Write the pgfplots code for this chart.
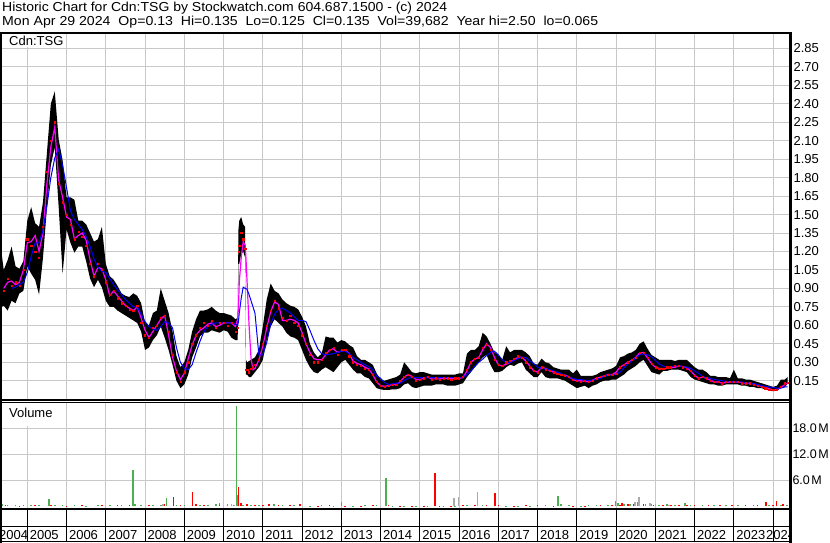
\documentclass[border=0pt]{standalone}
\usepackage{fontspec}
\setmainfont{Liberation Sans}
\usepackage{graphicx}
\usepackage{pgfplots}
\pgfplotsset{compat=1.18}
\usepackage{pgfplotstable}
\definecolor{gridc}{RGB}{200,200,200}
\definecolor{volgreen}{RGB}{76,175,80}
\definecolor{volgray}{RGB}{170,170,170}
\definecolor{mag}{RGB}{255,0,255}
\newcommand{\fnt}{\fontsize{13}{15}\selectfont}

\pgfplotstableread{
t ma bl lo hi cl
2004.30 nan nan 0.74 1.30 0.90
2004.40 0.90 nan 0.76 1.05 0.88
2004.50 0.95 nan 0.72 1.13 0.98
2004.60 0.96 0.90 0.80 1.24 0.92
2004.70 0.93 0.91 0.78 1.08 0.95
2004.80 0.95 0.93 0.86 1.06 0.92
2004.90 1.05 0.95 0.88 1.12 1.05
2005.00 1.27 1.03 1.08 1.45 1.30
2005.10 1.28 1.16 1.02 1.56 1.25
2005.20 1.33 1.27 0.97 1.43 1.20
2005.30 1.20 1.27 0.85 1.40 1.15
2005.40 1.35 1.37 1.15 1.60 1.40
2005.50 1.75 1.57 1.55 2.00 1.85
2005.60 2.05 1.80 1.90 2.40 2.10
2005.70 2.21 1.96 2.05 2.50 2.25
2005.80 1.78 2.03 1.56 2.11 1.75
2005.90 1.64 1.90 1.02 1.94 1.60
2006.00 1.48 1.72 1.38 1.64 1.50
2006.10 1.46 1.53 1.27 1.64 1.42
2006.20 1.30 1.46 1.19 1.62 1.30
2006.30 1.33 1.42 1.24 1.45 1.36
2006.40 1.35 1.38 1.24 1.45 1.32
2006.50 1.29 1.32 1.12 1.42 1.25
2006.60 1.13 1.24 0.98 1.35 1.10
2006.70 1.00 1.14 0.91 1.28 1.00
2006.80 1.07 1.07 0.97 1.30 1.10
2006.90 1.06 1.04 0.91 1.40 1.05
2007.00 0.97 1.03 0.80 1.10 0.95
2007.10 0.84 0.98 0.75 1.00 0.85
2007.20 0.88 0.93 0.75 0.97 0.88
2007.30 0.84 0.89 0.72 0.92 0.82
2007.40 0.80 0.85 0.70 0.86 0.78
2007.50 0.76 0.81 0.68 0.84 0.76
2007.60 0.74 0.78 0.66 0.83 0.73
2007.70 0.72 0.75 0.64 0.86 0.72
2007.80 0.75 0.75 0.62 0.84 0.76
2007.90 0.66 0.69 0.55 0.78 0.62
2008.00 0.56 0.63 0.40 0.62 0.52
2008.10 0.50 0.59 0.42 0.60 0.50
2008.20 0.55 0.57 0.48 0.70 0.58
2008.30 0.60 0.56 0.52 0.72 0.60
2008.40 0.65 0.59 0.59 0.90 0.66
2008.50 0.68 0.63 0.50 0.80 0.68
2008.60 0.52 0.62 0.40 0.70 0.55
2008.70 0.34 0.58 0.28 0.55 0.36
2008.80 0.23 0.42 0.15 0.35 0.22
2008.90 0.16 0.30 0.09 0.26 0.14
2009.00 0.21 0.25 0.12 0.30 0.22
2009.10 0.33 0.24 0.20 0.40 0.30
2009.20 0.44 0.28 0.34 0.55 0.45
2009.30 0.52 0.38 0.42 0.65 0.52
2009.40 0.56 0.47 0.51 0.72 0.58
2009.50 0.58 0.55 0.54 0.72 0.62
2009.60 0.61 0.59 0.54 0.73 0.60
2009.70 0.62 0.61 0.56 0.75 0.64
2009.80 0.59 0.62 0.55 0.72 0.58
2009.90 0.60 0.62 0.54 0.70 0.62
2010.00 0.62 0.62 0.56 0.70 0.62
2010.10 0.62 0.62 0.55 0.69 0.60
2010.20 0.62 0.62 0.50 0.68 0.62
2010.30 0.59 0.61 0.48 0.65 0.55
2010.36 0.65 0.60 0.48 0.66 0.58
2010.38 0.75 0.63 1.10 1.38 1.20
2010.40 0.95 0.70 1.10 1.45 1.25
2010.45 1.15 0.82 1.18 1.48 1.35
2010.50 1.28 0.91 1.20 1.42 1.30
2010.55 1.25 0.90 1.15 1.40 1.22
2010.57 1.15 0.90 0.20 0.32 0.24
2010.60 0.95 0.89 0.20 0.30 0.24
2010.65 0.60 0.85 0.18 0.31 0.22
2010.70 0.33 0.80 0.18 0.32 0.25
2010.75 0.24 0.75 0.20 0.33 0.26
2010.80 0.25 0.70 0.22 0.34 0.28
2010.90 0.32 0.36 0.26 0.40 0.32
2011.00 0.43 0.36 0.32 0.59 0.45
2011.10 0.58 0.46 0.48 0.81 0.60
2011.20 0.71 0.61 0.59 0.94 0.72
2011.30 0.79 0.69 0.65 0.88 0.80
2011.40 0.77 0.73 0.62 0.86 0.74
2011.50 0.64 0.74 0.59 0.81 0.66
2011.60 0.64 0.72 0.54 0.78 0.64
2011.70 0.65 0.70 0.51 0.76 0.68
2011.80 0.64 0.67 0.50 0.75 0.62
2011.90 0.62 0.64 0.48 0.73 0.60
2012.00 0.54 0.64 0.40 0.67 0.52
2012.10 0.45 0.63 0.32 0.59 0.45
2012.20 0.38 0.56 0.26 0.45 0.36
2012.30 0.33 0.48 0.22 0.38 0.30
2012.40 0.32 0.41 0.21 0.34 0.30
2012.50 0.32 0.37 0.24 0.37 0.32
2012.60 0.36 0.36 0.26 0.51 0.38
2012.70 0.40 0.365 0.24 0.50 0.40
2012.80 0.41 0.37 0.22 0.50 0.42
2012.90 0.38 0.38 0.26 0.46 0.36
2013.00 0.39 0.39 0.30 0.48 0.40
2013.10 0.40 0.39 0.32 0.47 0.40
2013.20 0.37 0.37 0.28 0.44 0.35
2013.30 0.31 0.34 0.24 0.42 0.30
2013.40 0.29 0.32 0.21 0.35 0.28
2013.50 0.28 0.30 0.21 0.32 0.27
2013.60 0.26 0.28 0.18 0.32 0.25
2013.70 0.245 0.265 0.17 0.30 0.24
2013.80 0.20 0.24 0.13 0.28 0.20
2013.90 0.14 0.19 0.09 0.21 0.14
2014.00 0.11 0.17 0.08 0.16 0.11
2014.10 0.105 0.135 0.075 0.15 0.10
2014.20 0.11 0.12 0.075 0.16 0.11
2014.30 0.12 0.125 0.08 0.17 0.12
2014.40 0.12 0.13 0.08 0.18 0.12
2014.50 0.14 0.13 0.09 0.20 0.15
2014.60 0.18 0.15 0.12 0.30 0.18
2014.70 0.20 0.17 0.13 0.26 0.20
2014.80 0.185 0.175 0.10 0.22 0.18
2014.90 0.16 0.175 0.09 0.21 0.15
2015.00 0.16 0.175 0.10 0.22 0.16
2015.10 0.17 0.175 0.11 0.22 0.17
2015.20 0.18 0.175 0.11 0.21 0.18
2015.30 0.165 0.175 0.11 0.20 0.16
2015.40 0.165 0.175 0.12 0.20 0.17
2015.50 0.165 0.175 0.12 0.20 0.16
2015.60 0.17 0.175 0.12 0.20 0.17
2015.70 0.17 0.175 0.11 0.20 0.17
2015.80 0.17 0.175 0.11 0.20 0.16
2015.90 0.17 0.175 0.11 0.20 0.17
2016.00 0.17 0.175 0.12 0.21 0.17
2016.10 0.175 0.18 0.13 0.21 0.18
2016.20 0.23 0.20 0.18 0.37 0.24
2016.30 0.30 0.23 0.22 0.40 0.30
2016.40 0.325 0.265 0.26 0.40 0.33
2016.50 0.34 0.30 0.30 0.43 0.34
2016.60 0.40 0.325 0.34 0.54 0.42
2016.70 0.45 0.355 0.36 0.51 0.44
2016.80 0.42 0.38 0.28 0.45 0.40
2016.90 0.34 0.39 0.22 0.38 0.32
2017.00 0.28 0.36 0.22 0.36 0.28
2017.10 0.27 0.32 0.23 0.32 0.27
2017.20 0.285 0.30 0.26 0.43 0.30
2017.30 0.30 0.30 0.28 0.38 0.31
2017.40 0.32 0.315 0.27 0.40 0.33
2017.50 0.34 0.33 0.29 0.40 0.35
2017.60 0.34 0.34 0.30 0.40 0.34
2017.70 0.31 0.34 0.24 0.38 0.30
2017.80 0.27 0.31 0.21 0.35 0.26
2017.90 0.23 0.29 0.18 0.29 0.23
2018.00 0.22 0.26 0.18 0.28 0.22
2018.10 0.26 0.25 0.22 0.33 0.26
2018.20 0.25 0.245 0.18 0.30 0.24
2018.30 0.235 0.24 0.17 0.29 0.23
2018.40 0.22 0.23 0.17 0.26 0.22
2018.50 0.21 0.22 0.17 0.25 0.21
2018.60 0.20 0.21 0.16 0.24 0.20
2018.70 0.195 0.19 0.15 0.24 0.19
2018.80 0.18 0.175 0.13 0.24 0.18
2018.90 0.16 0.17 0.11 0.21 0.16
2019.00 0.15 0.16 0.09 0.24 0.15
2019.10 0.15 0.16 0.10 0.19 0.14
2019.20 0.145 0.155 0.11 0.19 0.15
2019.30 0.14 0.15 0.09 0.19 0.14
2019.40 0.155 0.155 0.11 0.19 0.15
2019.50 0.17 0.16 0.12 0.20 0.17
2019.60 0.18 0.17 0.14 0.22 0.18
2019.70 0.19 0.185 0.15 0.23 0.19
2019.80 0.20 0.195 0.15 0.24 0.20
2019.90 0.20 0.20 0.16 0.25 0.20
2020.00 0.22 0.20 0.16 0.27 0.21
2020.10 0.26 0.22 0.18 0.34 0.26
2020.20 0.28 0.255 0.20 0.35 0.28
2020.30 0.30 0.285 0.23 0.37 0.30
2020.40 0.315 0.31 0.25 0.38 0.32
2020.50 0.34 0.335 0.27 0.40 0.34
2020.60 0.375 0.36 0.30 0.45 0.38
2020.70 0.38 0.37 0.32 0.47 0.38
2020.80 0.335 0.36 0.27 0.41 0.34
2020.90 0.29 0.345 0.22 0.36 0.29
2021.00 0.26 0.315 0.21 0.34 0.26
2021.10 0.25 0.285 0.20 0.32 0.25
2021.20 0.25 0.27 0.23 0.32 0.25
2021.30 0.25 0.26 0.23 0.32 0.26
2021.40 0.255 0.265 0.24 0.32 0.26
2021.50 0.26 0.27 0.24 0.31 0.27
2021.60 0.27 0.27 0.24 0.32 0.27
2021.70 0.265 0.265 0.23 0.32 0.26
2021.80 0.255 0.26 0.22 0.32 0.25
2021.90 0.23 0.25 0.18 0.29 0.23
2022.00 0.195 0.23 0.16 0.26 0.19
2022.10 0.17 0.21 0.15 0.24 0.17
2022.20 0.18 0.185 0.14 0.24 0.18
2022.30 0.17 0.175 0.13 0.22 0.17
2022.40 0.155 0.17 0.12 0.19 0.15
2022.50 0.14 0.16 0.12 0.19 0.14
2022.60 0.14 0.155 0.11 0.18 0.14
2022.70 0.13 0.15 0.11 0.18 0.13
2022.80 0.135 0.145 0.12 0.18 0.14
2022.90 0.14 0.14 0.12 0.17 0.14
2023.00 0.14 0.14 0.12 0.24 0.14
2023.10 0.14 0.14 0.12 0.17 0.14
2023.20 0.135 0.14 0.11 0.17 0.13
2023.30 0.13 0.135 0.11 0.16 0.13
2023.40 0.13 0.13 0.10 0.16 0.13
2023.50 0.125 0.125 0.10 0.15 0.12
2023.60 0.115 0.12 0.09 0.14 0.11
2023.70 0.105 0.11 0.09 0.13 0.10
2023.80 0.095 0.105 0.08 0.12 0.09
2023.90 0.085 0.10 0.07 0.11 0.08
2024.00 0.075 0.095 0.065 0.10 0.075
2024.10 0.08 0.09 0.07 0.11 0.08
2024.20 0.095 0.09 0.09 0.16 0.10
2024.30 0.12 0.10 0.10 0.16 0.13
2024.37 0.13 0.10 0.125 0.18 0.135
}\price

\begin{document}
\begin{tikzpicture}
\path[use as bounding box] (0pt,0pt) rectangle (830pt,543pt);

% ---------- price panel ----------
\begin{axis}[
  at={(0pt,143pt)}, anchor=south west, width=790pt, height=367pt, scale only axis,
  xmin=2004.305, xmax=2024.43, ymin=-0.0065, ymax=2.975,
  axis line style={draw=none},
  xtick={2005,...,2024}, xticklabels={},
  ytick={0.15,0.3,0.45,0.6,0.75,0.9,1.05,1.2,1.35,1.5,1.65,1.8,1.95,2.1,2.25,2.4,2.55,2.7,2.85},
  yticklabel pos=right,
  /pgf/number format/assume math mode=true,
  yticklabel style={anchor=west, font=\fnt, /pgf/number format/fixed, /pgf/number format/fixed zerofill, /pgf/number format/precision=2},
  grid=major, major grid style={gridc, line width=1pt},
  major tick length=0pt,
]
% high-low range (filled between daily lows and highs)
\addplot[draw=none, stack plots=y, forget plot] table[x=t,y=lo]{\price};
\addplot[fill=black, draw=none, stack plots=y, forget plot] table[x=t,y expr=\thisrow{hi}-\thisrow{lo}]{\price} \closedcycle;
% closes
\addplot[only marks, mark=square*, mark size=0.6pt, red] table[x=t,y=cl]{\price};
\addplot[mag, line width=1.2pt, unbounded coords=jump] table[x=t,y=ma]{\price};
\addplot[blue, line width=1pt, unbounded coords=jump] table[x=t,y=bl]{\price};
\end{axis}

% ---------- volume panel ----------
\begin{axis}[
  at={(0pt,33pt)}, anchor=south west, width=790pt, height=108pt, scale only axis,
  xmin=2004.305, xmax=2024.43, ymin=-0.854, ymax=24.07,
  axis line style={draw=none},
  xtick={2005,...,2024}, xticklabels={},
  ytick={6,12,18}, yticklabels={6.0\hspace{1.5pt}M,12.0\hspace{1.5pt}M,18.0\hspace{1.5pt}M},
  yticklabel pos=right,
  yticklabel style={anchor=west, xshift=-1pt, font=\fontsize{12.5}{14}\selectfont},
  grid=major, major grid style={gridc, line width=1pt},
  major tick length=0pt,
]
\addplot[ycomb, volgreen, line width=1.6pt] coordinates {
(2004.35,0.5)(2004.5,0.3)(2004.7,0.25)(2004.9,0.3)(2005.1,0.2)(2005.3,0.25)(2005.55,1.7)(2005.7,0.4)(2005.9,0.3)(2006.2,0.2)(2006.5,0.15)(2006.8,0.2)(2007.1,0.25)(2007.4,0.3)(2007.70,8.4)(2007.75,0.6)(2007.9,0.3)(2008.2,0.3)(2008.4,0.4)(2008.55,2.0)(2008.8,0.3)(2009.0,0.2)(2009.4,0.3)(2009.6,0.4)(2009.8,0.6)(2009.90,0.8)(2010.1,0.5)(2010.25,0.3)(2010.33,23.2)(2010.35,2.5)(2010.5,0.3)(2010.7,0.4)(2010.9,0.3)(2011.27,0.6)(2011.3,0.5)(2011.5,0.2)(2011.8,0.2)(2012.2,0.15)(2012.5,0.2)(2012.8,0.15)(2013.0,0.9)(2013.3,0.15)(2013.6,0.2)(2013.9,0.2)(2014.14,6.5)(2014.3,0.15)(2014.6,0.15)(2014.9,0.15)(2015.2,0.1)(2015.6,0.1)(2015.9,0.15)(2016.2,0.25)(2016.6,0.2)(2016.9,0.2)(2017.2,0.15)(2017.5,0.15)(2017.8,0.15)(2018.2,0.2)(2018.52,2.4)(2018.6,0.5)(2018.8,0.2)(2019.1,0.15)(2019.3,0.4)(2019.5,0.25)(2019.8,0.3)(2019.98,1.2)(2020.05,0.8)(2020.2,0.5)(2020.35,0.6)(2020.56,1.0)(2020.6,0.8)(2020.75,0.5)(2020.9,0.5)(2021.1,0.4)(2021.3,0.5)(2021.5,0.4)(2021.75,0.7)(2021.9,0.3)(2022.2,0.25)(2022.5,0.2)(2022.8,0.2)(2023.1,0.2)(2023.5,0.2)(2023.9,0.2)(2024.2,0.3)(2024.35,0.2)
};
\addplot[ycomb, red, line width=1.6pt] coordinates {
(2004.45,0.2)(2004.8,0.15)(2005.2,0.2)(2005.6,0.3)(2006.0,0.15)(2006.4,0.2)(2006.9,0.4)(2007.3,0.2)(2007.6,0.2)(2008.1,0.3)(2008.5,0.6)(2008.72,2.2)(2008.9,0.4)(2009.21,3.4)(2009.3,0.5)(2009.5,0.3)(2009.9,0.2)(2010.2,0.4)(2010.38,4.5)(2010.45,0.8)(2010.6,0.5)(2010.8,0.4)(2011.0,0.3)(2011.15,0.5)(2011.4,0.3)(2011.7,0.2)(2011.95,0.6)(2012.4,0.15)(2012.7,0.2)(2013.1,0.15)(2013.5,0.15)(2013.8,0.2)(2014.2,0.2)(2014.5,0.1)(2014.8,0.15)(2015.1,0.1)(2015.39,7.6)(2015.5,0.1)(2015.8,0.15)(2016.1,0.2)(2016.4,0.2)(2016.7,0.3)(2016.92,3.0)(2017.0,0.2)(2017.4,0.15)(2017.7,0.2)(2018.0,0.2)(2018.4,0.15)(2018.9,0.15)(2019.2,0.15)(2019.6,0.2)(2019.9,0.3)(2020.10,0.4)(2020.15,0.7)(2020.3,0.5)(2020.45,0.6)(2020.7,0.5)(2020.95,0.4)(2021.2,0.4)(2021.4,0.3)(2021.6,0.3)(2021.8,0.25)(2022.0,0.3)(2022.35,0.25)(2022.65,0.2)(2022.95,0.2)(2023.3,0.2)(2023.6,0.2)(2023.82,0.9)(2024.0,0.3)(2024.09,1.2)(2024.25,0.5)
};
\addplot[ycomb, volgray, line width=1.6pt] coordinates {
(2008.45,0.5)(2010.2,0.6)(2010.28,0.4)(2015.87,1.8)(2015.99,2.1)(2016.47,3.2)(2020.48,1.0)(2020.58,2.2)(2020.86,0.7)(2021.0,0.5)(2021.35,0.4)
};
\end{axis}

\begin{scope}[x=1pt,y=1pt]
% ---------- labels inside panels ----------
\fill[white] (3,496) rectangle (64,509);
\node[anchor=base west, inner sep=0pt] at (9,497.7) {\fnt Cdn:TSG};
\fill[white] (3,116.5) rectangle (64,140);
\node[anchor=base west, inner sep=0pt] at (9,125) {\fnt Volume};

% ---------- title ----------
\node[anchor=base west, inner sep=0pt] at (2,531) {\resizebox{445pt}{\height}{\fnt Historic Chart for Cdn:TSG by Stockwatch.com 604.687.1500 - (c) 2024}};
\node[anchor=base west, inner sep=0pt] at (2,517) {\resizebox{596pt}{\height}{\fnt Mon Apr 29 2024\ \ Op=0.13\ \ Hi=0.135\ \ Lo=0.125\ \ Cl=0.135\ \ Vol=39,682\ \ Year hi=2.50\ \ lo=0.065}};

% ---------- year row ----------
\foreach \Y in {2005,...,2024}{
  \draw[black, line width=1pt] ({27.3+39.26*(\Y-2005)},1) -- ({27.3+39.26*(\Y-2005)},34);
}
\begin{scope}
\clip (0,0) rectangle (789,33);
\node[anchor=base west, inner sep=0pt] at (-1,3.3) {\fnt 2004};
\foreach \Y in {2005,...,2023}{
  \node[anchor=base west, inner sep=0pt] at ({27.3+39.26*(\Y-2005)+2.3},3.3) {\fnt \Y};
}
\node[anchor=base west, inner sep=0pt] at (766,3.3) {\fnt 2024};
\end{scope}

% ---------- frame ----------
\draw[black, line width=2pt] (0,510) -- (791.5,510);
\draw[black, line width=2pt] (1,0) -- (1,511);
\draw[black, line width=3pt] (790,0) -- (790,511);
\draw[black, line width=1.3pt] (0,143) -- (790,143);
\draw[black, line width=1.3pt] (0,140.5) -- (790,140.5);
\draw[black, line width=2pt] (0,34) -- (790,34);
\draw[black, line width=1.5pt] (0,16.5) -- (790,16.5);
\draw[black, line width=1.5pt] (0,1.5) -- (790,1.5);
\end{scope}
\end{tikzpicture}
\end{document}
